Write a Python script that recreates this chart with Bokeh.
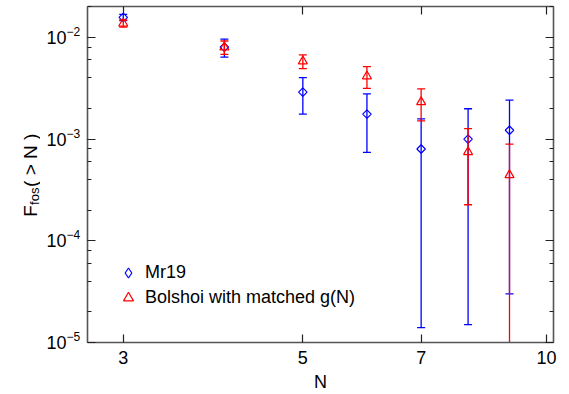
import math
from bokeh.plotting import figure
from bokeh.layouts import row
from bokeh.models import (Range1d, LogAxis, FixedTicker, LogTicker, CustomJSTickFormatter,
                          Label, Legend, LegendItem, ColumnDataSource)
from bokeh.embed import file_html
from bokeh.resources import INLINE

# ---- data ----
N_vals = [3, 4, 5, 6, 7, 8, 9]
mr19_val = [0.0157, 0.0080, 0.00289, 0.00176, 0.000798, 0.00100, 0.00122]
mr19_err = [0.0011, 0.0016, 0.00113, 0.00102, 0.000784, 0.000985, 0.00119]
bol_val = [0.0137, 0.0080, 0.00582, 0.00415, 0.00231, 0.000746, 0.000443]
bol_err = [0.0011, 0.0012, 0.0009, 0.0010, 0.0008, 0.00052, 0.00045]
x_ticks = [3, 5, 7, 10]
y_tick_exps = [-5, -4, -3, -2]
series_names = ["Mr19", "Bolshoi with matched g(N)"]

FONT = "Liberation Sans"
BLUE = "#0000FF"
RED = "#FF0000"
FLOOR = 1e-9
W, H = 569, 394
LABEL_W = 40          # panel holding the rotated y-axis title
TICKS_W = 45          # panel holding the y tick labels
TICKS_BORDER = 26     # where the "10" labels end inside the tick panel
FRAME_TOP, FRAME_BOTTOM = 6, 51

y_range = Range1d(1e-5, 0.0201)


def make_src(vals, errs):
    lo = [max(v - e, FLOOR) for v, e in zip(vals, errs)]
    hi = [v + e for v, e in zip(vals, errs)]
    return ColumnDataSource(dict(N=N_vals, v=vals, lo=lo, hi=hi))


p = figure(width=W - LABEL_W - TICKS_W, height=H, x_axis_type="log", y_axis_type="log",
           x_range=Range1d(2.71, 10.2), y_range=y_range,
           output_backend="svg", toolbar_location=None,
           min_border_left=2, min_border_right=16, min_border_top=FRAME_TOP,
           min_border_bottom=FRAME_BOTTOM)
p.outline_line_color = None
p.grid.visible = False
p.background_fill_color = "white"

blank = CustomJSTickFormatter(code="return '';")


def style_axis(ax):
    ax.axis_line_color = "#555555"
    ax.axis_line_width = 1.6
    ax.major_tick_line_color = "#222222"
    ax.minor_tick_line_color = "#222222"
    ax.major_tick_line_width = 1.2
    ax.minor_tick_line_width = 1.0
    ax.major_tick_in = 8
    ax.major_tick_out = 0
    ax.minor_tick_in = 4
    ax.minor_tick_out = 0
    ax.major_label_text_font = FONT
    ax.major_label_text_font_size = "18px"
    ax.major_label_text_color = "black"
    ax.axis_label_text_font = FONT
    ax.axis_label_text_font_size = "18px"
    ax.axis_label_text_font_style = "normal"
    ax.axis_label_text_color = "black"


xax = p.xaxis[0]
xax.ticker = FixedTicker(ticks=x_ticks, minor_ticks=[])
xax.major_label_overrides = {t: str(t) for t in x_ticks}
xax.axis_label = "N"
xax.axis_label_standoff = 5
xax.major_label_standoff = 8
style_axis(xax)

yax = p.yaxis[0]
yax.ticker = LogTicker()
yax.formatter = blank
yax.major_label_standoff = 0
style_axis(yax)

top = LogAxis(ticker=FixedTicker(ticks=x_ticks, minor_ticks=[]), formatter=blank)
style_axis(top)
top.major_label_standoff = 0
p.add_layout(top, "above")

right = LogAxis(ticker=LogTicker(), formatter=blank)
style_axis(right)
right.major_label_standoff = 0
p.add_layout(right, "right")

# ---- data marks ----
legend_renderers = []
for vals, errs, color, marker, size, ang, leg_marker in [
    (mr19_val, mr19_err, BLUE, "square", 6, math.pi / 4, "diamond"),
    (bol_val, bol_err, RED, "triangle", 9, 0, "triangle"),
]:
    src = make_src(vals, errs)
    p.segment(x0="N", y0="lo", x1="N", y1="hi", source=src, line_color=color, line_width=1.3)
    p.scatter(x="N", y="lo", source=src, marker="dash", size=8, line_color=color, line_width=1.3)
    p.scatter(x="N", y="hi", source=src, marker="dash", size=8, line_color=color, line_width=1.3)
    p.scatter(x="N", y="v", source=src, marker=marker, size=size, angle=ang,
              line_color=color, fill_color=None, line_width=1.2)
    # hidden twin used only for the legend swatch
    lr = p.scatter(x="N", y="v", source=src, marker=leg_marker, size=size,
                   line_color=color, fill_color=None, line_width=1.2, visible=False)
    legend_renderers.append(lr)

legend = Legend(items=[LegendItem(label=series_names[0], renderers=[legend_renderers[0]]),
                       LegendItem(label=series_names[1], renderers=[legend_renderers[1]])],
                location=(26, 32), padding=0, margin=0, border_line_color=None,
                background_fill_alpha=0, inactive_fill_alpha=0,
                glyph_width=30, glyph_height=25, label_height=25,
                label_standoff=2, spacing=0, label_text_font=FONT,
                label_text_font_size="18px", label_text_color="black")
p.add_layout(legend, "center")

# ---- y tick label panel: "10" from a native axis, exponents as labels ----
t = figure(width=TICKS_W, height=H, y_axis_type="log",
           x_range=Range1d(0, TICKS_W - TICKS_BORDER), y_range=y_range,
           output_backend="svg", toolbar_location=None,
           min_border_left=TICKS_BORDER, min_border_right=0,
           min_border_top=FRAME_TOP, min_border_bottom=FRAME_BOTTOM,
           x_axis_location=None, y_axis_location="left")
t.grid.visible = False
t.outline_line_color = None
tax = t.yaxis[0]
tax.ticker = FixedTicker(ticks=[10.0 ** e for e in y_tick_exps], minor_ticks=[])
tax.formatter = CustomJSTickFormatter(code="return '10';")
tax.axis_line_color = None
tax.major_tick_line_color = None
tax.minor_tick_line_color = None
tax.major_tick_out = 0
tax.major_tick_in = 0
tax.major_label_standoff = 0
tax.major_label_text_font = FONT
tax.major_label_text_font_size = "18px"
tax.major_label_text_color = "black"
for e in y_tick_exps:
    t.add_layout(Label(x=0, y=10.0 ** e, y_offset=6, text="\u2212" + str(abs(e)),
                       text_font=FONT, text_font_size="12px", text_align="left",
                       text_baseline="middle", text_color="black"))

# ---- y title panel: F_fos( > N ); data y = pixels from the canvas bottom ----
q = figure(width=LABEL_W, height=H, x_range=Range1d(0, LABEL_W),
           y_range=Range1d(FRAME_BOTTOM, H - FRAME_TOP),
           output_backend="svg", toolbar_location=None, min_border=0,
           min_border_top=FRAME_TOP, min_border_bottom=FRAME_BOTTOM,
           x_axis_location=None, y_axis_location=None)
q.grid.visible = False
q.outline_line_color = None
ang = math.pi / 2
q.add_layout(Label(x=30, y=H - 217, text="F", angle=ang,
                   text_font=FONT, text_font_size="19px", text_align="left",
                   text_baseline="alphabetic", text_color="black"))
q.add_layout(Label(x=34, y=H - 205, text="fos", angle=ang,
                   text_font=FONT, text_font_size="13px", text_align="left",
                   text_baseline="alphabetic", text_color="black"))
q.add_layout(Label(x=30, y=H - 187, text="( > N )", angle=ang,
                   text_font=FONT, text_font_size="19px", text_align="left",
                   text_baseline="alphabetic", text_color="black"))

layout = row(q, t, p, spacing=0)
open("out.html", "w").write(file_html(layout, INLINE))
